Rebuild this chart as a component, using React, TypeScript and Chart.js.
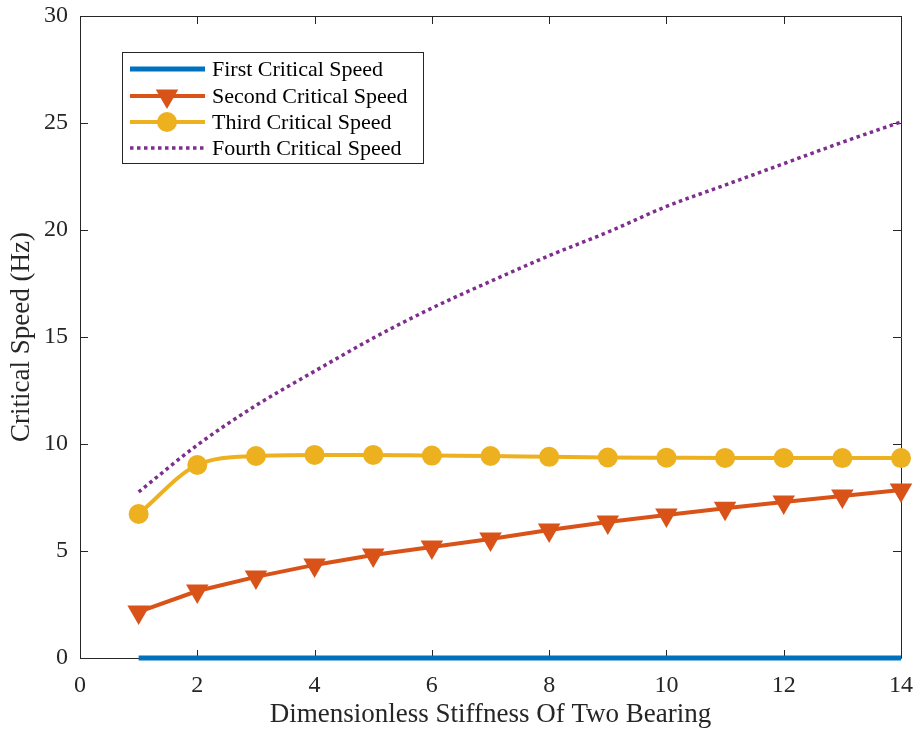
import React, { useEffect, useRef } from "react";
import { Chart, registerables } from "chart.js";

Chart.register(...registerables);

const xValues = [1, 2, 3, 4, 5, 6, 7, 8, 9, 10, 11, 12, 13, 14];
const firstSpeed = [0, 0, 0, 0, 0, 0, 0, 0, 0, 0, 0, 0, 0, 0];
const secondSpeed = [2.15, 3.13, 3.79, 4.35, 4.81, 5.19, 5.56, 5.98, 6.36, 6.68, 7.0, 7.29, 7.57, 7.85];
const thirdSpeed = [6.73, 9.02, 9.44, 9.49, 9.49, 9.46, 9.44, 9.4, 9.37, 9.36, 9.35, 9.35, 9.34, 9.34];
const fourthSpeed = [7.76, 9.95, 11.8, 13.4, 14.95, 16.35, 17.6, 18.8, 19.9, 21.1, 22.1, 23.1, 24.1, 25.05];
const seriesNames = ["First Critical Speed", "Second Critical Speed", "Third Critical Speed", "Fourth Critical Speed"];
const xTickValues = [0, 2, 4, 6, 8, 10, 12, 14];
const yTickValues = [0, 5, 10, 15, 20, 25, 30];
const xTitle = "Dimensionless Stiffness Of Two Bearing";
const yTitle = "Critical Speed (Hz)";

const BLUE = "#0072BD";
const ORANGE = "#D95319";
const YELLOW = "#EDB120";
const PURPLE = "#7E2F8E";
const AXIS = "#262626";
const FONT = "'Liberation Serif', 'Times New Roman', serif";

const toXY = (ys: number[]) => ys.map((y, i) => ({ x: xValues[i], y }));

const frameTicksPlugin = {
  id: "frameTicks",
  beforeDatasetsDraw(chart: any) {
    const { ctx, chartArea, scales } = chart;
    const { left, right, top, bottom } = chartArea;
    ctx.save();
    ctx.strokeStyle = AXIS;
    ctx.lineWidth = 1;
    ctx.beginPath();
    ctx.rect(Math.round(left) + 0.5, Math.round(top) + 0.5, Math.round(right - left), Math.round(bottom - top));
    ctx.stroke();
    const tl = 8;
    ctx.beginPath();
    xTickValues.forEach((v) => {
      const px = Math.round(scales.x.getPixelForValue(v)) + 0.5;
      ctx.moveTo(px, bottom);
      ctx.lineTo(px, bottom - tl);
      ctx.moveTo(px, top);
      ctx.lineTo(px, top + tl);
    });
    yTickValues.forEach((v) => {
      const py = Math.round(scales.y.getPixelForValue(v)) + 0.5;
      ctx.moveTo(left, py);
      ctx.lineTo(left + tl, py);
      ctx.moveTo(right, py);
      ctx.lineTo(right - tl, py);
    });
    ctx.stroke();
    ctx.restore();
  },
};

const legendPlugin = {
  id: "innerLegend",
  afterDraw(chart: any) {
    const { ctx } = chart;
    const bx = 122, by = 52, bw = 301, bh = 111;
    ctx.save();
    ctx.fillStyle = "#ffffff";
    ctx.fillRect(bx, by, bw, bh);
    ctx.strokeStyle = AXIS;
    ctx.lineWidth = 1;
    ctx.strokeRect(bx + 0.5, by + 0.5, bw, bh);
    const rows = [69, 96, 122, 148];
    const x0 = 130, x1 = 205, xm = 167;
    chart.data.datasets.forEach((ds: any, i: number) => {
      const y = rows[i];
      ctx.save();
      ctx.strokeStyle = ds.borderColor;
      ctx.lineWidth = ds.borderWidth;
      ctx.setLineDash(ds.borderDash || []);
      ctx.lineCap = "butt";
      ctx.beginPath();
      ctx.moveTo(x0, y);
      ctx.lineTo(x1, y);
      ctx.stroke();
      ctx.restore();
      if (ds.pointRadius > 0) {
        ctx.fillStyle = ds.pointBackgroundColor;
        ctx.beginPath();
        if (ds.pointStyle === "triangle") {
          const r = ds.pointRadius;
          for (let k = 0; k < 3; k++) {
            const a = Math.PI + (k * 2 * Math.PI) / 3;
            const px = xm + Math.sin(a) * r;
            const py = y - Math.cos(a) * r;
            if (k === 0) ctx.moveTo(px, py);
            else ctx.lineTo(px, py);
          }
          ctx.closePath();
        } else {
          ctx.arc(xm, y, ds.pointRadius, 0, Math.PI * 2);
        }
        ctx.fill();
      }
      ctx.fillStyle = "#000000";
      ctx.font = `22px ${FONT}`;
      ctx.textBaseline = "middle";
      ctx.textAlign = "left";
      ctx.fillText(ds.label, 212, y + 1);
    });
    ctx.restore();
  },
};

const noAutoPadding = (scale: any) => {
  scale.paddingTop = 0;
  scale.paddingBottom = 0;
  scale.paddingLeft = 0;
  scale.paddingRight = 0;
};

export default function App() {
  const canvasRef = useRef<HTMLCanvasElement | null>(null);

  useEffect(() => {
    document.body.style.margin = "0";
    const canvas = canvasRef.current;
    if (!canvas) return;
    const chart = new Chart(canvas, {
      type: "line",
      data: {
        datasets: [
          {
            label: seriesNames[0],
            data: toXY(firstSpeed),
            borderColor: BLUE,
            backgroundColor: BLUE,
            borderWidth: 5,
            pointRadius: 0,
            clip: false,
            order: 4,
          },
          {
            label: seriesNames[1],
            data: toXY(secondSpeed),
            borderColor: ORANGE,
            backgroundColor: ORANGE,
            borderWidth: 4,
            pointStyle: "triangle",
            rotation: 180,
            pointRadius: 13,
            pointBackgroundColor: ORANGE,
            pointBorderWidth: 0,
            clip: false,
            order: 3,
          },
          {
            label: seriesNames[2],
            data: toXY(thirdSpeed),
            borderColor: YELLOW,
            backgroundColor: YELLOW,
            borderWidth: 4,
            pointStyle: "circle",
            pointRadius: 10,
            pointBackgroundColor: YELLOW,
            pointBorderWidth: 0,
            cubicInterpolationMode: "monotone",
            clip: false,
            order: 2,
          },
          {
            label: seriesNames[3],
            data: toXY(fourthSpeed),
            borderColor: PURPLE,
            backgroundColor: PURPLE,
            borderWidth: 3.5,
            borderDash: [3.5, 3.5],
            borderCapStyle: "butt",
            pointRadius: 0,
            cubicInterpolationMode: "monotone",
            clip: false,
            order: 1,
          },
        ] as any,
      },
      options: {
        animation: false,
        responsive: false,
        maintainAspectRatio: false,
        layout: { padding: { top: 16, right: 13, left: 0, bottom: 0 } },
        plugins: {
          legend: { display: false },
          tooltip: { enabled: false },
        },
        scales: {
          x: {
            type: "linear",
            min: 0,
            max: 14,
            grid: { display: false, drawTicks: false },
            border: { display: false },
            ticks: {
              stepSize: 2,
              color: AXIS,
              padding: 13,
              font: { family: FONT, size: 24 },
              maxRotation: 0,
            },
            title: {
              display: true,
              text: xTitle,
              color: AXIS,
              font: { family: FONT, size: 27 },
              padding: { top: 0, bottom: 0 },
            },
            afterFit: (scale: any) => {
              scale.height = 73;
              noAutoPadding(scale);
            },
          },
          y: {
            type: "linear",
            min: 0,
            max: 30,
            grid: { display: false, drawTicks: false },
            border: { display: false },
            ticks: {
              stepSize: 5,
              color: AXIS,
              padding: 12,
              font: { family: FONT, size: 24 },
            },
            title: {
              display: true,
              text: yTitle,
              color: AXIS,
              font: { family: FONT, size: 27 },
              padding: { top: 6, bottom: 0 },
            },
            afterFit: (scale: any) => {
              scale.width = 80;
              noAutoPadding(scale);
            },
          },
        },
      } as any,
      plugins: [frameTicksPlugin, legendPlugin],
    });
    return () => chart.destroy();
  }, []);

  return (
    <div style={{ width: 914, height: 731, background: "#ffffff" }}>
      <canvas ref={canvasRef} width={914} height={731} style={{ display: "block" }} />
    </div>
  );
}
